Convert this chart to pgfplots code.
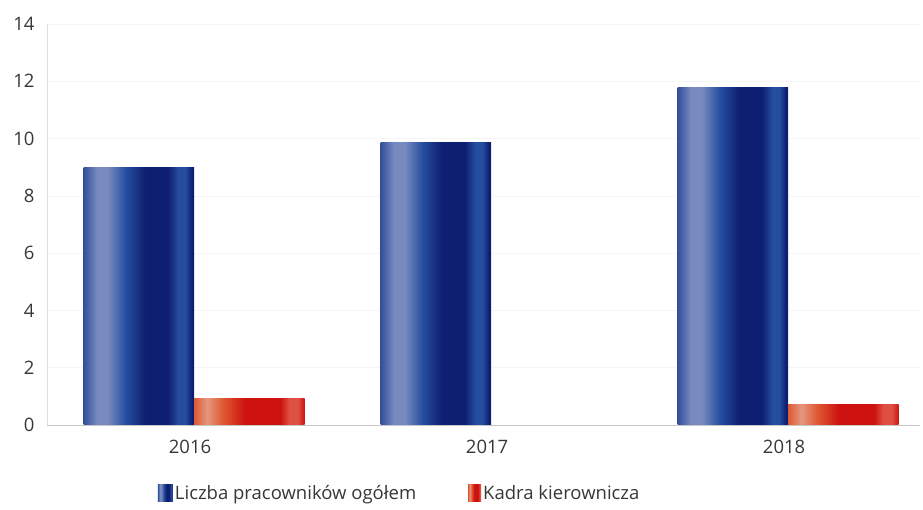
\documentclass[border=0pt]{standalone}
\usepackage{pgfplots}
\pgfplotsset{compat=1.18}
\usepackage{fontspec}
\setmainfont{Open Sans}

\definecolor{txt}{RGB}{55,55,55}
\definecolor{b1}{RGB}{50,80,155}
\definecolor{b2}{RGB}{120,138,192}
\definecolor{b3}{RGB}{38,78,160}
\definecolor{b4}{RGB}{14,30,112}
\definecolor{r1}{RGB}{222,90,50}
\definecolor{r2}{RGB}{230,150,128}
\definecolor{r3}{RGB}{205,18,15}
\definecolor{r4}{RGB}{222,80,65}
% cylinder-like shading of the bars (visible part is 25bp..75bp)
\pgfdeclarehorizontalshading{bluebar}{100bp}{%
  color(0bp)=(b1); color(25bp)=(b1); color(31bp)=(b2); color(36bp)=(b2);
  color(44bp)=(b3); color(53bp)=(b4); color(63bp)=(b4); color(68bp)=(b3);
  color(71bp)=(b3); color(74bp)=(b4); color(100bp)=(b4)}
\pgfdeclarehorizontalshading{redbar}{100bp}{%
  color(0bp)=(r1); color(25bp)=(r1); color(31bp)=(r2); color(38bp)=(r1);
  color(48bp)=(r3); color(64bp)=(r3); color(68bp)=(r4); color(72bp)=(r4);
  color(75bp)=(r3); color(100bp)=(r3)}

\pgfplotsset{
  bluebars/.style={ybar, bar shift=-0.186, draw=none, shade, shading=bluebar,
    legend image code/.code={\path[draw=none, shade, shading=bluebar] (0pt,-8pt) rectangle (15pt,9pt);}},
  redbars/.style={ybar, bar shift=0.186, draw=none, shade, shading=redbar,
    legend image code/.code={\path[draw=none, shade, shading=redbar] (0pt,-8pt) rectangle (13pt,9pt);}},
}

\begin{document}
\begin{tikzpicture}[font=\fontsize{18.5}{22}\selectfont, text=txt]
\path[use as bounding box] (-47pt,-85pt) rectangle (876pt,425pt);
\begin{axis}[
  scale only axis,
  width=873pt, height=401pt,
  at={(0pt,0pt)}, anchor=south west,
  ymin=0, ymax=14, ytick={0,2,...,14},
  xmin=-0.495, xmax=2.444,
  xtick={0,1,2}, xticklabels={2016,2017,2018},
  axis lines*=left,
  axis line style={draw=gray!45, line width=0.8pt},
  y axis line style={draw=gray!25},
  major tick length=0pt,
  ymajorgrids, major grid style={gray!8, line width=0.6pt},
  tick label style={text=txt},
  /pgf/number format/assume math mode=true,
  yticklabel style={xshift=-9pt},
  xticklabel style={yshift=-12pt, xshift=-4pt},
  bar width=0.372,
  legend columns=2,
  legend style={at={(0.404,-0.17)}, anchor=center, draw=none, fill=none,
    /tikz/every even column/.append style={column sep=50pt}},
]
% one plot per bar so that every bar gets its own shading
\addplot[bluebars] coordinates {(0,9.0)};
\addlegendentry{Liczba pracowników ogółem}
\addplot[redbars] coordinates {(0,0.92)};
\addlegendentry{Kadra kierownicza}
\addplot[bluebars, forget plot] coordinates {(1,9.85)};
\addplot[bluebars, forget plot] coordinates {(2,11.78)};
\addplot[redbars, forget plot] coordinates {(1,0)};
\addplot[redbars, forget plot] coordinates {(2,0.72)};
\end{axis}
\end{tikzpicture}
\end{document}
